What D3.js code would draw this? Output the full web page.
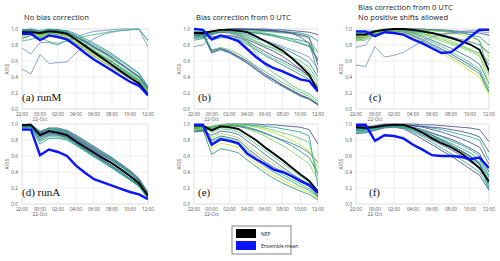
<!DOCTYPE html>
<html>
<head>
<meta charset="utf-8">
<script src="https://cdn.jsdelivr.net/npm/d3@7"></script>
<style>
  body { margin: 0; background: #fff; }
  text { font-family: "Open Sans", sans-serif; }
</style>
</head>
<body>
<script>
// Page is small, same size as the reference.
var svg_width = 500;
var svg_height = 261;

// Hourly valid times, 22:00 to 12:00 next day.
var hourLabels = ["22:00","23:00","00:00","01:00","02:00","03:00","04:00","05:00",
                  "06:00","07:00","08:00","09:00","10:00","11:00","12:00"];
var yTicks = [0.0, 0.2, 0.4, 0.6, 0.8, 1.0];
var columnTitles = [["No bias correction"], ["Bias correction from 0 UTC"],
                    ["Bias correction from 0 UTC", "No positive shifts allowed"]];
var panelLabels = ["(a) runM", "(b)", "(c)", "(d) runA", "(e)", "(f)"];
var legendLabels = ["NEP", "Ensemble mean"];

// ---- (a) runM, no bias correction
var nepA = [0.96,0.96,0.95,0.97,0.96,0.94,0.87,0.79,0.71,0.63,0.55,0.47,0.39,0.32,0.18];
var meanA = [0.94,0.94,0.86,0.92,0.90,0.87,0.79,0.70,0.62,0.55,0.48,0.41,0.34,0.29,0.17];
var membersA = [
  [0.98,0.99,0.93,0.98,0.98,0.96,0.91,0.85,0.78,0.72,0.65,0.57,0.49,0.41,0.26],
  [0.97,0.98,0.92,0.97,0.97,0.95,0.89,0.83,0.76,0.70,0.62,0.55,0.47,0.39,0.24],
  [0.95,0.97,0.91,0.96,0.96,0.94,0.88,0.81,0.74,0.67,0.60,0.52,0.45,0.37,0.22],
  [0.93,0.96,0.95,0.99,0.98,0.95,0.87,0.80,0.72,0.65,0.58,0.50,0.43,0.35,0.21],
  [0.90,0.94,0.94,0.97,0.96,0.93,0.85,0.78,0.70,0.63,0.56,0.49,0.42,0.34,0.20],
  [0.88,0.92,0.96,0.98,0.97,0.94,0.86,0.77,0.69,0.62,0.55,0.48,0.41,0.33,0.19],
  [0.99,0.99,0.97,0.99,0.99,0.97,0.92,0.86,0.80,0.74,0.67,0.60,0.52,0.44,0.27],
  [0.96,0.97,0.90,0.95,0.94,0.91,0.84,0.76,0.68,0.61,0.54,0.47,0.40,0.33,0.19],
  [0.94,0.95,0.89,0.94,0.93,0.90,0.82,0.74,0.66,0.59,0.52,0.45,0.38,0.31,0.18],
  [0.92,0.96,0.93,0.96,0.95,0.92,0.86,0.79,0.72,0.66,0.59,0.51,0.44,0.36,0.23],
  [0.97,0.98,0.96,0.98,0.97,0.95,0.90,0.84,0.77,0.71,0.64,0.56,0.48,0.40,0.25],
  [0.95,0.96,0.92,0.95,0.95,0.93,0.87,0.80,0.73,0.66,0.59,0.52,0.44,0.36,0.21],
  [0.91,0.93,0.91,0.93,0.92,0.89,0.83,0.75,0.67,0.60,0.53,0.46,0.39,0.32,0.18],
  [0.99,1.00,0.98,1.00,0.99,0.98,0.94,0.88,0.82,0.76,0.69,0.61,0.53,0.45,0.28],
  [0.50,0.44,0.68,0.57,0.58,0.59,0.70,0.80,0.88,0.93,0.96,0.98,0.99,1.00,0.77],
  [0.76,0.69,0.83,0.83,0.80,0.86,0.90,0.94,0.97,0.98,0.99,1.00,1.00,1.00,0.85],
  [0.85,0.87,0.90,0.84,0.82,0.85,0.88,0.91,0.93,0.95,0.97,0.98,0.99,1.00,0.86]
];

// ---- (b) runM, bias correction from 0 UTC
var nepB = [0.95,0.95,0.97,0.99,0.99,0.98,0.96,0.91,0.85,0.79,0.73,0.64,0.54,0.43,0.22];
var meanB = [1.00,0.99,0.87,0.92,0.89,0.85,0.75,0.65,0.57,0.51,0.47,0.42,0.37,0.35,0.22];
var membersB = [
  [0.92,0.93,0.96,0.98,0.99,1.00,1.00,1.00,1.00,0.99,0.99,0.98,0.97,0.96,0.93],
  [0.90,0.91,0.95,0.97,0.98,0.99,0.99,0.99,0.98,0.98,0.97,0.96,0.95,0.92,0.85],
  [0.88,0.89,0.94,0.97,0.98,0.98,0.98,0.97,0.97,0.96,0.95,0.94,0.92,0.88,0.70],
  [0.93,0.94,0.96,0.99,1.00,1.00,0.99,0.99,0.98,0.97,0.96,0.95,0.93,0.90,0.55],
  [0.86,0.88,0.93,0.96,0.97,0.97,0.96,0.95,0.94,0.92,0.90,0.88,0.86,0.83,0.45],
  [0.91,0.92,0.95,0.97,0.98,0.98,0.97,0.96,0.95,0.93,0.90,0.87,0.83,0.79,0.72],
  [0.95,0.96,0.97,0.99,1.00,1.00,1.00,0.99,0.99,0.98,0.97,0.95,0.90,0.82,0.60],
  [0.89,0.90,0.94,0.96,0.97,0.97,0.96,0.95,0.93,0.91,0.88,0.85,0.82,0.78,0.62],
  [0.95,0.96,0.96,0.97,0.96,0.94,0.90,0.85,0.80,0.76,0.70,0.64,0.56,0.47,0.30],
  [0.94,0.95,0.95,0.96,0.95,0.92,0.87,0.82,0.77,0.72,0.66,0.58,0.50,0.40,0.26],
  [0.97,0.97,0.96,0.98,0.97,0.95,0.92,0.88,0.85,0.81,0.76,0.71,0.65,0.58,0.40],
  [0.96,0.97,0.95,0.97,0.96,0.93,0.89,0.84,0.79,0.75,0.70,0.65,0.60,0.52,0.35],
  [0.94,0.95,0.73,0.76,0.72,0.66,0.60,0.52,0.44,0.37,0.30,0.24,0.18,0.13,0.06],
  [0.93,0.94,0.70,0.74,0.70,0.64,0.57,0.49,0.41,0.34,0.28,0.22,0.16,0.12,0.05],
  [0.95,0.96,0.74,0.77,0.74,0.69,0.62,0.54,0.47,0.40,0.33,0.27,0.21,0.16,0.07],
  [0.92,0.93,0.71,0.75,0.71,0.65,0.58,0.50,0.42,0.36,0.29,0.23,0.17,0.13,0.05],
  [0.78,0.80,0.93,0.96,0.97,0.96,0.94,0.90,0.86,0.82,0.78,0.74,0.70,0.65,0.50],
  [0.93,0.94,0.88,0.90,0.91,0.89,0.83,0.76,0.69,0.63,0.58,0.52,0.46,0.40,0.25],
  [0.92,0.93,0.90,0.92,0.92,0.90,0.85,0.78,0.72,0.66,0.61,0.55,0.49,0.42,0.27],
  [0.94,0.95,0.86,0.89,0.89,0.87,0.81,0.74,0.67,0.61,0.55,0.49,0.43,0.37,0.23],
  [0.96,0.97,0.96,0.98,0.97,0.94,0.85,0.70,0.55,0.45,0.38,0.30,0.24,0.19,0.10]
];

// ---- (c) runM, bias correction from 0 UTC, no positive shifts
var nepC = [0.93,0.93,0.97,0.99,1.00,1.00,0.99,0.97,0.95,0.92,0.89,0.85,0.81,0.74,0.48];
var meanC = [0.97,0.97,0.91,0.96,0.95,0.93,0.87,0.82,0.76,0.70,0.71,0.80,0.90,0.99,0.99];
var membersC = [
  [0.90,0.92,0.97,0.99,1.00,1.00,1.00,1.00,0.99,0.99,0.98,0.97,0.96,0.95,0.92],
  [0.88,0.90,0.96,0.98,0.99,0.99,0.99,0.98,0.98,0.97,0.96,0.95,0.93,0.90,0.80],
  [0.93,0.94,0.98,0.99,1.00,1.00,0.99,0.99,0.98,0.97,0.95,0.93,0.90,0.86,0.65],
  [0.86,0.88,0.95,0.97,0.98,0.98,0.97,0.96,0.94,0.91,0.88,0.84,0.80,0.75,0.55],
  [0.92,0.93,0.96,0.98,0.99,0.98,0.96,0.93,0.89,0.85,0.81,0.77,0.72,0.66,0.42],
  [0.95,0.96,0.97,0.99,0.99,0.98,0.95,0.91,0.86,0.81,0.76,0.70,0.64,0.56,0.32],
  [0.91,0.92,0.95,0.97,0.98,0.97,0.94,0.89,0.84,0.78,0.72,0.65,0.58,0.50,0.26],
  [0.89,0.91,0.94,0.96,0.97,0.96,0.92,0.87,0.81,0.75,0.69,0.62,0.55,0.47,0.22],
  [0.94,0.95,0.96,0.98,0.98,0.96,0.91,0.85,0.79,0.73,0.66,0.59,0.52,0.44,0.20],
  [0.90,0.91,0.93,0.96,0.97,0.95,0.90,0.84,0.77,0.70,0.63,0.56,0.48,0.40,0.18],
  [0.96,0.97,0.98,1.00,1.00,1.00,1.00,0.99,0.99,0.98,0.97,0.96,0.93,0.85,0.45],
  [0.87,0.89,0.95,0.97,0.98,0.98,0.97,0.95,0.92,0.89,0.85,0.80,0.75,0.68,0.30],
  [0.92,0.94,0.97,0.99,0.99,0.99,0.98,0.97,0.95,0.93,0.90,0.87,0.84,0.80,0.70],
  [0.85,0.86,0.93,0.96,0.97,0.97,0.96,0.94,0.91,0.87,0.83,0.79,0.74,0.70,0.60],
  [0.55,0.53,0.78,0.65,0.67,0.71,0.78,0.85,0.90,0.93,0.95,0.97,0.98,0.99,0.98],
  [0.77,0.80,0.97,0.99,0.99,0.98,0.97,0.96,0.95,0.94,0.94,0.95,0.96,0.97,0.95]
];

// ---- (d) runA, no bias correction
var nepD = [0.99,0.99,0.86,0.91,0.89,0.86,0.78,0.71,0.64,0.57,0.51,0.43,0.35,0.26,0.10];
var meanD = [0.93,0.93,0.61,0.68,0.65,0.60,0.48,0.39,0.31,0.27,0.23,0.19,0.15,0.12,0.06];
var membersD = [
  [0.99,1.00,0.90,0.94,0.93,0.90,0.83,0.76,0.69,0.62,0.56,0.48,0.40,0.30,0.13],
  [0.98,0.99,0.88,0.93,0.92,0.89,0.81,0.74,0.67,0.60,0.54,0.46,0.38,0.29,0.12],
  [0.97,0.98,0.85,0.90,0.90,0.87,0.80,0.73,0.66,0.59,0.52,0.44,0.36,0.27,0.11],
  [0.96,0.97,0.82,0.88,0.88,0.85,0.78,0.71,0.64,0.57,0.50,0.42,0.34,0.25,0.10],
  [0.95,0.96,0.80,0.86,0.86,0.83,0.76,0.69,0.62,0.55,0.48,0.40,0.32,0.24,0.09],
  [0.98,0.98,0.87,0.92,0.93,0.91,0.85,0.78,0.71,0.64,0.57,0.49,0.41,0.31,0.14],
  [0.97,0.97,0.84,0.89,0.87,0.84,0.76,0.68,0.61,0.54,0.47,0.39,0.31,0.23,0.08],
  [0.94,0.95,0.78,0.84,0.84,0.81,0.74,0.67,0.60,0.53,0.46,0.39,0.31,0.23,0.08],
  [0.99,0.99,0.89,0.95,0.95,0.92,0.86,0.79,0.72,0.65,0.58,0.50,0.42,0.32,0.14],
  [0.96,0.96,0.83,0.87,0.86,0.82,0.75,0.67,0.59,0.52,0.45,0.37,0.30,0.22,0.07],
  [0.98,0.99,0.86,0.91,0.91,0.88,0.82,0.75,0.68,0.61,0.55,0.47,0.39,0.29,0.12],
  [0.95,0.96,0.75,0.82,0.82,0.80,0.73,0.66,0.59,0.52,0.45,0.38,0.30,0.22,0.07],
  [0.97,0.98,0.88,0.92,0.90,0.86,0.79,0.72,0.65,0.58,0.51,0.43,0.35,0.26,0.10],
  [0.99,1.00,0.91,0.95,0.94,0.91,0.84,0.77,0.70,0.63,0.56,0.48,0.39,0.28,0.11]
];

// ---- (e) runA, bias correction from 0 UTC
var nepE = [0.98,0.98,0.92,0.97,0.96,0.94,0.87,0.80,0.71,0.63,0.55,0.46,0.37,0.29,0.15];
var meanE = [0.99,0.99,0.74,0.81,0.79,0.76,0.63,0.56,0.50,0.43,0.40,0.35,0.29,0.24,0.14];
var membersE = [
  [0.95,0.96,0.97,0.99,1.00,1.00,1.00,1.00,0.99,0.99,0.98,0.97,0.96,0.93,0.75],
  [0.93,0.94,0.96,0.98,0.99,0.99,0.99,0.98,0.97,0.96,0.94,0.92,0.90,0.85,0.22],
  [0.96,0.97,0.97,0.99,0.99,0.99,0.98,0.96,0.93,0.89,0.85,0.80,0.74,0.66,0.45],
  [0.94,0.95,0.96,0.98,0.99,0.98,0.96,0.93,0.89,0.84,0.79,0.73,0.66,0.58,0.38],
  [0.92,0.93,0.95,0.97,0.98,0.97,0.94,0.90,0.85,0.79,0.73,0.66,0.58,0.50,0.30],
  [0.97,0.98,0.93,0.96,0.95,0.93,0.87,0.79,0.70,0.62,0.54,0.46,0.38,0.30,0.17],
  [0.95,0.96,0.90,0.94,0.93,0.90,0.83,0.75,0.67,0.59,0.51,0.43,0.35,0.27,0.14],
  [0.96,0.97,0.80,0.85,0.83,0.80,0.70,0.61,0.53,0.46,0.40,0.34,0.28,0.22,0.10],
  [0.94,0.95,0.76,0.81,0.78,0.74,0.64,0.55,0.47,0.40,0.34,0.28,0.22,0.17,0.08],
  [0.93,0.94,0.70,0.76,0.74,0.70,0.60,0.51,0.43,0.36,0.30,0.24,0.19,0.14,0.06],
  [0.92,0.93,0.62,0.69,0.67,0.64,0.55,0.47,0.39,0.32,0.26,0.21,0.16,0.12,0.05],
  [0.97,0.97,0.83,0.88,0.86,0.83,0.74,0.65,0.57,0.50,0.43,0.36,0.30,0.23,0.11],
  [0.91,0.92,0.94,0.97,0.98,0.97,0.95,0.92,0.88,0.84,0.80,0.76,0.71,0.64,0.52],
  [0.95,0.96,0.97,0.98,0.99,0.99,0.98,0.97,0.95,0.92,0.89,0.86,0.82,0.77,0.35],
  [0.90,0.91,0.86,0.91,0.90,0.87,0.79,0.71,0.62,0.54,0.46,0.38,0.31,0.24,0.12],
  [0.96,0.97,0.78,0.83,0.81,0.77,0.67,0.58,0.50,0.43,0.37,0.31,0.25,0.19,0.09]
];

// ---- (f) runA, bias correction from 0 UTC, no positive shifts
var nepF = [0.96,0.95,0.96,0.98,0.99,0.99,0.95,0.89,0.82,0.76,0.71,0.64,0.55,0.45,0.28];
var meanF = [0.99,0.99,0.79,0.86,0.85,0.82,0.74,0.68,0.61,0.60,0.60,0.59,0.56,0.58,0.45];
var membersF = [
  [0.95,0.96,0.97,0.99,1.00,1.00,1.00,0.99,0.99,0.98,0.97,0.96,0.95,0.93,0.78],
  [0.93,0.94,0.96,0.98,0.99,0.99,0.98,0.97,0.95,0.93,0.90,0.87,0.84,0.80,0.55],
  [0.96,0.97,0.97,0.99,0.99,0.98,0.96,0.93,0.89,0.85,0.81,0.76,0.70,0.63,0.40],
  [0.94,0.95,0.95,0.97,0.98,0.97,0.94,0.89,0.84,0.79,0.73,0.67,0.60,0.52,0.30],
  [0.92,0.93,0.94,0.97,0.98,0.96,0.92,0.86,0.80,0.74,0.68,0.61,0.53,0.45,0.25],
  [0.90,0.91,0.93,0.96,0.97,0.95,0.90,0.84,0.77,0.70,0.63,0.56,0.48,0.40,0.20],
  [0.88,0.89,0.92,0.95,0.96,0.94,0.88,0.81,0.74,0.67,0.60,0.52,0.44,0.36,0.17],
  [0.97,0.98,0.96,0.98,0.98,0.97,0.94,0.90,0.86,0.81,0.76,0.70,0.64,0.56,0.33],
  [0.95,0.96,0.98,1.00,1.00,0.99,0.98,0.96,0.93,0.90,0.86,0.82,0.77,0.71,0.50],
  [0.91,0.92,0.95,0.97,0.97,0.96,0.93,0.88,0.82,0.76,0.70,0.64,0.57,0.49,0.22],
  [0.94,0.95,0.97,0.99,0.99,0.99,0.98,0.97,0.96,0.95,0.93,0.91,0.88,0.84,0.65],
  [0.89,0.90,0.94,0.96,0.97,0.96,0.93,0.89,0.84,0.78,0.72,0.66,0.59,0.51,0.19],
  [0.97,0.97,0.96,0.99,0.99,0.98,0.95,0.91,0.86,0.80,0.74,0.67,0.60,0.50,0.27],
  [0.93,0.93,0.95,0.98,0.98,0.97,0.95,0.92,0.88,0.84,0.79,0.74,0.68,0.60,0.35]
];

var panels = [
  {members: membersA, nep: nepA, mean: meanA},
  {members: membersB, nep: nepB, mean: meanB},
  {members: membersC, nep: nepC, mean: meanC},
  {members: membersD, nep: nepD, mean: meanD},
  {members: membersE, nep: nepE, mean: meanE},
  {members: membersF, nep: nepF, mean: meanF}
];

// Plot boxes (pixels) for the three columns and two rows.
var cols = [{x0: 22, x1: 148, lab: 0}, {x0: 194, x1: 318, lab: 4}, {x0: 356, x1: 489, lab: 13}];
var rows = [{y0: 29, y1: 109}, {y0: 124, y1: 204}];

var svg = d3.select("body")
    .append("svg")
    .attr("width", svg_width)
    .attr("height", svg_height);

// Times as real dates so a time scale can be used.
var parseHour = d3.timeParse("%Y-%m-%d %H:%M");
var times = hourLabels.map(function (h, i) {
    var day = i < 2 ? "2018-10-21 " : "2018-10-22 ";
    return parseHour(day + h);
});

// Member colours run through viridis in a scrambled order,
// leaning to the green / yellow end like the original.
function memberColor(i, n) {
    var k = (i * 7) % n;
    return d3.interpolateViridis(0.22 + 0.72 * k / Math.max(1, n - 1));
}

panels.forEach(function (p, idx) {
    var c = cols[idx % 3];
    var r = rows[Math.floor(idx / 3)];

    var x = d3.scaleTime()
        .domain([times[0], times[times.length - 1]])
        .range([c.x0, c.x1]);
    var y = d3.scaleLinear().domain([0, 1]).range([r.y1, r.y0]);

    var g = svg.append("g");

    // grid
    var xTickVals = times.filter(function (t, i) { return i % 2 === 0; });
    g.append("g").selectAll("line.gx")
        .data(xTickVals).enter().append("line")
        .attr("x1", function (d) { return x(d); })
        .attr("x2", function (d) { return x(d); })
        .attr("y1", r.y0).attr("y2", r.y1)
        .attr("stroke", "#e3e3e3").attr("stroke-width", 0.6);
    g.append("g").selectAll("line.gy")
        .data(yTicks).enter().append("line")
        .attr("x1", c.x0).attr("x2", c.x1)
        .attr("y1", function (d) { return y(d); })
        .attr("y2", function (d) { return y(d); })
        .attr("stroke", "#e3e3e3").attr("stroke-width", 0.6);
    g.append("rect")
        .attr("x", c.x0).attr("y", r.y0)
        .attr("width", c.x1 - c.x0).attr("height", r.y1 - r.y0)
        .attr("fill", "none").attr("stroke", "#dcdcdc").attr("stroke-width", 0.6);

    var line = d3.line()
        .x(function (d, i) { return x(times[i]); })
        .y(function (d) { return y(d); });

    var clipId = "clip" + idx;
    svg.append("clipPath").attr("id", clipId).append("rect")
        .attr("x", c.x0).attr("y", r.y0 - 2)
        .attr("width", c.x1 - c.x0).attr("height", r.y1 - r.y0 + 2);
    var lines = g.append("g").attr("clip-path", "url(#" + clipId + ")");

    lines.selectAll("path.member")
        .data(p.members).enter().append("path")
        .attr("d", line)
        .attr("fill", "none")
        .attr("stroke", function (d, i) {
            // the odd early-starting runs are drawn in slate blue
            return d[0] < 0.8 || d[1] < 0.8 ? "#6f8fb8" : memberColor(i, p.members.length);
        })
        .attr("stroke-width", 0.9)
        .attr("opacity", 0.9);

    lines.append("path").datum(p.nep)
        .attr("d", line).attr("fill", "none")
        .attr("stroke", "#000").attr("stroke-width", 1.8);
    lines.append("path").datum(p.mean)
        .attr("d", line).attr("fill", "none")
        .attr("stroke", "#0a14ff").attr("stroke-width", 2.4);

    // y tick labels
    g.selectAll("text.yt")
        .data(yTicks).enter().append("text")
        .attr("x", c.x0 - 4)
        .attr("y", function (d) { return y(d) + 1.8; })
        .attr("text-anchor", "end")
        .attr("font-size", "4.8px")
        .attr("fill", "#555")
        .text(function (d) { return d3.format(".1f")(d); });

    // x tick labels
    g.selectAll("text.xt")
        .data(xTickVals).enter().append("text")
        .attr("x", function (d) { return x(d); })
        .attr("y", r.y1 + 7)
        .attr("text-anchor", "middle")
        .attr("font-size", "4.8px")
        .attr("fill", "#555")
        .text(d3.timeFormat("%H:%M"));
    g.append("text")
        .attr("x", x(times[2])).attr("y", r.y1 + 11.5)
        .attr("text-anchor", "middle")
        .attr("font-size", "4.8px").attr("fill", "#555")
        .text(d3.timeFormat("%d-%b")(times[2]));

    // y axis title
    g.append("text")
        .attr("transform", "translate(" + (c.x0 - 13) + "," + ((r.y0 + r.y1) / 2) + ") rotate(-90)")
        .attr("text-anchor", "middle")
        .attr("font-size", "4.8px").attr("fill", "#555")
        .text("AFSS");

    // panel letter, serif like the original
    g.append("text")
        .attr("x", c.x0 + c.lab).attr("y", r.y1 - 8)
        .style("font-family", "'Liberation Serif', 'DejaVu Serif', serif")
        .attr("font-size", "11px").attr("fill", "#111")
        .text(panelLabels[idx]);
});

// column titles
columnTitles.forEach(function (lines, i) {
    var t = svg.append("text")
        .attr("x", cols[i].x0 + 2)
        .attr("y", lines.length > 1 ? 10 : 20)
        .attr("font-size", "7.6px").attr("fill", "#222");
    lines.forEach(function (s, j) {
        t.append("tspan").attr("x", cols[i].x0 + 2).attr("dy", j === 0 ? 0 : 10).text(s);
    });
});

// legend
var legend = svg.append("g");
legend.append("rect")
    .attr("x", 232).attr("y", 226).attr("width", 59).attr("height", 28)
    .attr("fill", "#fff").attr("stroke", "#555").attr("stroke-width", 0.7);
var legendColors = ["#000", "#0a14ff"];
legendLabels.forEach(function (s, i) {
    legend.append("rect")
        .attr("x", 236).attr("y", 229 + i * 12).attr("width", 20).attr("height", 9)
        .attr("fill", legendColors[i]);
    legend.append("text")
        .attr("x", 261).attr("y", 236 + i * 12)
        .attr("font-size", "5px").attr("fill", "#222")
        .text(s);
});
</script>
</body>
</html>
